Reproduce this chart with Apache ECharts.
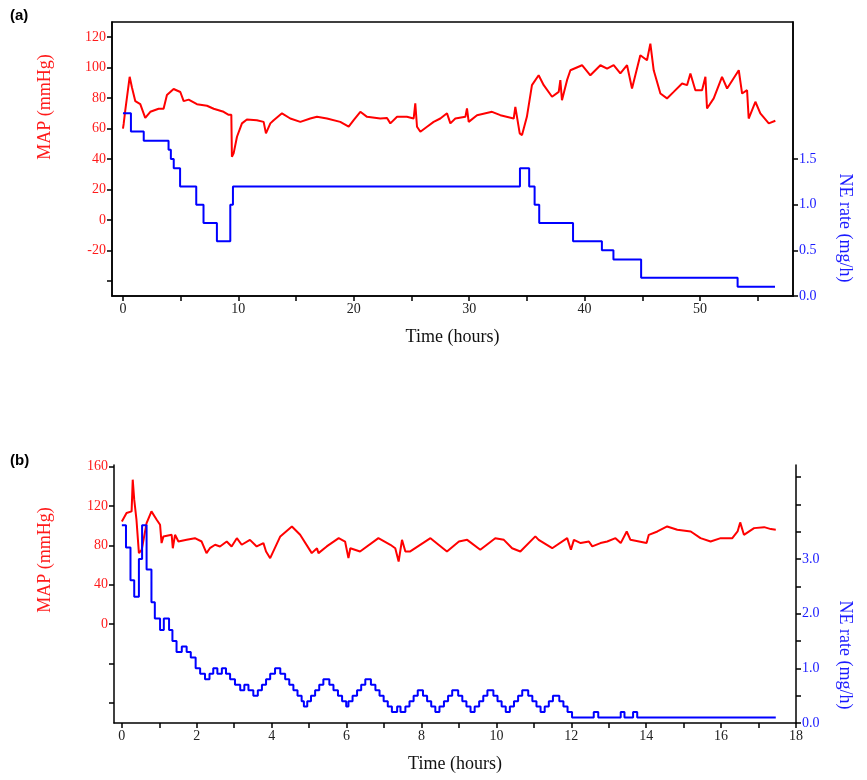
<!DOCTYPE html>
<html>
<head>
<meta charset="utf-8">
<script src="https://cdn.jsdelivr.net/npm/echarts@6/dist/echarts.min.js"></script>
<style>
  html, body { margin: 0; padding: 0; background: #fff; }
  #main { width: 867px; height: 780px; }
</style>
</head>
<body>
<div id="main"></div>
<script>
// (a) MAP trace [hours, mmHg]
var mapA = [[0,60],[0.06,63],[0.2,72],[0.58,94],[0.78,87],[1.07,78],[1.5,76],[1.93,67],[2.37,71],[3.09,73],[3.52,73],[3.81,82],[4.39,86],[4.97,84],[5.26,78],[5.69,79],[6.41,76],[7.28,75],[7.86,73],[8.72,71],[9.16,69],[9.39,69],[9.44,41.5],[9.59,43.7],[9.88,54.6],[10.31,63.4],[10.74,66],[11.6,65.5],[12.19,64.4],[12.39,56.8],[12.77,63.4],[13.06,65.5],[13.78,70],[14.5,66.6],[15.37,64.4],[16.23,66.6],[16.81,67.7],[17.68,66.6],[18.83,64.4],[19.56,61.2],[19.99,65.5],[20.57,71],[21.15,67.7],[22.3,66.6],[22.88,67],[23.17,63.4],[23.75,67.7],[24.6,67.7],[25.19,66.6],[25.33,76.5],[25.48,61.2],[25.77,57.9],[26.35,61.2],[26.92,64.4],[27.5,66.6],[28.08,70],[28.37,63.4],[28.8,66.6],[29.67,67.7],[29.81,73.2],[29.96,64.4],[30.68,68.8],[31.98,71],[32.7,68.8],[33.86,66.6],[34.0,74.3],[34.38,56.8],[34.58,55.7],[35.0,67.7],[35.44,88.5],[36.02,95],[36.46,88.5],[37.18,80.9],[37.76,84.1],[37.9,91.8],[38.04,78.6],[38.48,91.8],[38.77,98.3],[39.78,101.6],[40.5,95],[41.37,101.6],[41.95,99.4],[42.52,101.6],[43.1,96.2],[43.68,101.6],[44.11,86.3],[44.83,108.2],[45.41,104.9],[45.7,115.8],[45.99,98.3],[46.57,83],[47.14,79.8],[47.72,84.1],[48.45,89.6],[48.88,88.5],[49.17,96.2],[49.6,85.2],[50.18,85.2],[50.47,94],[50.61,73.2],[51.19,79.8],[51.91,94],[52.35,86.3],[53.36,98.3],[53.65,83],[54.08,85.2],[54.22,66.6],[54.8,77.6],[55.23,70],[55.96,63.4],[56.53,65.1]];

// (a) NE rate steps [start hour, mg/h]
var neA = [[0,2.0],[0.69,1.8],[1.8,1.7],[3.95,1.6],[4.15,1.5],[4.4,1.4],[4.95,1.2],[6.35,1.0],[6.98,0.8],[8.14,0.6],[9.3,1.0],[9.53,1.2],[34.4,1.4],[35.2,1.2],[35.67,1.0],[36.07,0.8],[39.0,0.6],[41.5,0.5],[42.5,0.4],[44.9,0.2],[53.26,0.1],[56.5,0.1]];

// (b) MAP trace
var mapB = [[0,104.2],[0.125,112.7],[0.26,114.4],[0.29,146.6],[0.33,126.3],[0.39,105.9],[0.455,72],[0.53,75.4],[0.66,102.5],[0.79,114.4],[0.93,105.9],[1.02,100.8],[1.06,82.2],[1.11,89],[1.33,90.6],[1.36,77],[1.42,90.6],[1.51,83.8],[1.73,85.5],[1.95,87.2],[2.13,83.8],[2.26,72],[2.35,77],[2.49,80.5],[2.62,78.8],[2.8,83.8],[2.93,78.8],[3.07,87.2],[3.2,80.5],[3.42,85.5],[3.6,78.8],[3.78,82.2],[3.85,73.7],[3.96,66.9],[4.23,89],[4.54,99.1],[4.76,90.6],[5.07,72],[5.21,77],[5.25,72],[5.47,78.8],[5.79,87.2],[5.96,83.8],[6.05,66.9],[6.1,77],[6.36,73.7],[6.85,87.2],[7.17,80.5],[7.3,77],[7.39,63.5],[7.48,85.5],[7.57,73.7],[7.7,73.7],[8.24,87.2],[8.68,73.7],[9.0,83.8],[9.22,85.5],[9.57,75.4],[9.97,87.2],[10.2,85.5],[10.42,77],[10.64,73.7],[11.04,89],[11.13,85.5],[11.49,77],[11.89,87.2],[11.99,75.4],[12.07,85.5],[12.25,82.2],[12.47,83.8],[12.56,78.8],[12.78,82.2],[12.96,83.8],[13.18,87.2],[13.32,82.2],[13.48,94],[13.58,85.5],[13.81,83.8],[14.01,82.2],[14.07,90.6],[14.3,94],[14.56,99.1],[14.83,95.7],[15.19,94],[15.45,87.2],[15.72,83.8],[15.99,87.2],[16.3,87.2],[16.44,94],[16.51,103.2],[16.61,90.6],[16.88,97.4],[17.15,98.4],[17.33,96.4],[17.46,95.7]];

// (b) NE rate steps
var neB = [[0,3.62],[0.11,3.21],[0.23,2.61],[0.33,2.31],[0.455,3.0],[0.54,3.62],[0.66,2.81],[0.79,2.21],[0.88,1.91],[1.02,1.7],[1.12,1.91],[1.26,1.7],[1.35,1.5],[1.46,1.3],[1.6,1.4],[1.73,1.3],[1.84,1.2],[1.97,1.0],[2.09,0.9],[2.22,0.8],[2.34,0.9],[2.44,1.0],[2.55,0.9],[2.67,1.0],[2.78,0.9],[2.89,0.8],[3.02,0.7],[3.16,0.6],[3.27,0.7],[3.38,0.6],[3.51,0.5],[3.63,0.6],[3.74,0.7],[3.85,0.8],[3.96,0.9],[4.09,1.0],[4.23,0.9],[4.36,0.8],[4.47,0.7],[4.58,0.6],[4.69,0.5],[4.8,0.4],[4.86,0.3],[4.95,0.4],[5.05,0.5],[5.16,0.6],[5.27,0.7],[5.38,0.8],[5.54,0.7],[5.65,0.6],[5.77,0.5],[5.88,0.4],[5.99,0.3],[6.05,0.4],[6.16,0.5],[6.28,0.6],[6.39,0.7],[6.5,0.8],[6.65,0.7],[6.77,0.6],[6.88,0.5],[6.99,0.4],[7.1,0.3],[7.21,0.2],[7.35,0.3],[7.44,0.2],[7.57,0.3],[7.68,0.4],[7.79,0.5],[7.9,0.6],[8.04,0.5],[8.15,0.4],[8.26,0.3],[8.37,0.2],[8.48,0.3],[8.6,0.4],[8.71,0.5],[8.82,0.6],[8.98,0.5],[9.09,0.4],[9.2,0.3],[9.31,0.2],[9.42,0.3],[9.54,0.4],[9.65,0.5],[9.76,0.6],[9.92,0.5],[10.03,0.4],[10.14,0.3],[10.25,0.2],[10.36,0.3],[10.47,0.4],[10.58,0.5],[10.69,0.6],[10.85,0.5],[10.96,0.4],[11.07,0.3],[11.18,0.2],[11.29,0.3],[11.4,0.4],[11.51,0.5],[11.68,0.4],[11.79,0.3],[11.9,0.2],[12.02,0.1],[12.6,0.2],[12.72,0.1],[13.32,0.2],[13.42,0.1],[13.65,0.2],[13.76,0.1],[17.46,0.1]];

// tick and label positions
var xTicksA = [0,5,10,15,20,25,30,35,40,45,50,55];
var xLabelsA = [0,10,20,30,40,50];
var xTicksB = [0,1,2,3,4,5,6,7,8,9,10,11,12,13,14,15,16,17,18];
var xLabelsB = [0,2,4,6,8,10,12,14,16,18];
var mapTicksA = [-40,-20,0,20,40,60,80,100,120];
var mapLabelsA = [-20,0,20,40,60,80,100,120];
var neTicksA = [0,0.5,1.0,1.5];
var mapTicksB = [-80,-40,0,40,80,120,160];
var mapLabelsB = [0,40,80,120,160];
var neTicksB = [0,0.5,1,1.5,2,2.5,3,3.5,4,4.5];
var neLabelsB = [0,1,2,3];

var FONT = '"Liberation Serif", "DejaVu Serif", serif';
var chart = echarts.init(document.getElementById('main'));

function axisBase(color) {
    return {
        axisLine: {show: true, onZero: false, lineStyle: {color: '#000', width: 1.5}},
        axisTick: {show: true, inside: false, length: 5, lineStyle: {color: '#000', width: 1.5}},
        splitLine: {show: false},
        axisLabel: {color: color, fontFamily: FONT, fontSize: 14, margin: 6}
    };
}

function xAxisOf(grid, min, max, ticks, labels) {
    var a = axisBase('#222');
    a.gridIndex = grid; a.type = 'value'; a.min = min; a.max = max;
    a.axisTick.customValues = ticks;
    a.axisLabel.customValues = labels;
    a.name = 'Time (hours)'; a.nameLocation = 'middle'; a.nameGap = 32;
    a.nameTextStyle = {fontFamily: FONT, fontSize: 18, color: '#111'};
    return a;
}

function yAxisOf(grid, pos, color, min, max, ticks, labels, fmt) {
    var a = axisBase(color);
    a.gridIndex = grid; a.type = 'value'; a.position = pos; a.min = min; a.max = max;
    a.axisTick.customValues = ticks;
    a.axisLabel.customValues = labels;
    if (fmt) a.axisLabel.formatter = fmt;
    return a;
}

var oneDec = function (v) { return v.toFixed(1); };

var option = {
    animation: false,
    backgroundColor: '#fff',
    grid: [
        {left: 112, top: 22, right: 74, height: 274, show: true, borderColor: '#000', borderWidth: 1.5},
        {left: 114, top: 465, right: 71, height: 258}
    ],
    xAxis: [
        xAxisOf(0, -0.95, 58.06, xTicksA, xLabelsA),
        xAxisOf(1, -0.21, 18, xTicksB, xLabelsB)
    ],
    yAxis: [
        yAxisOf(0, 'left', '#ff1a1a', -50, 130, mapTicksA, mapLabelsA),
        yAxisOf(0, 'right', '#1a1aff', 0, 3.0, neTicksA, neTicksA, oneDec),
        yAxisOf(1, 'left', '#ff1a1a', -100.5, 161.5, mapTicksB, mapLabelsB),
        yAxisOf(1, 'right', '#1a1aff', 0, 4.72, neTicksB, neLabelsB, oneDec)
    ],
    graphic: [
        {type: 'text', left: 10, top: 8, style: {text: '(a)', font: 'bold 15px Arial, "Liberation Sans"', fill: '#000'}},
        {type: 'text', left: 10, top: 453, style: {text: '(b)', font: 'bold 15px Arial, "Liberation Sans"', fill: '#000'}},
        {type: 'text', x: 45, y: 107, rotation: Math.PI / 2, style: {text: 'MAP (mmHg)', font: '18px ' + FONT, fill: '#ff1a1a', align: 'center', verticalAlign: 'middle'}},
        {type: 'text', x: 845, y: 228, rotation: -Math.PI / 2, style: {text: 'NE rate (mg/h)', font: '18px ' + FONT, fill: '#1a1aff', align: 'center', verticalAlign: 'middle'}},
        {type: 'text', x: 45, y: 560, rotation: Math.PI / 2, style: {text: 'MAP (mmHg)', font: '18px ' + FONT, fill: '#ff1a1a', align: 'center', verticalAlign: 'middle'}},
        {type: 'text', x: 845, y: 655, rotation: -Math.PI / 2, style: {text: 'NE rate (mg/h)', font: '18px ' + FONT, fill: '#1a1aff', align: 'center', verticalAlign: 'middle'}}
    ],
    series: [
        {type: 'line', xAxisIndex: 0, yAxisIndex: 0, data: mapA, showSymbol: false, lineStyle: {color: '#ff0000', width: 2}},
        {type: 'line', xAxisIndex: 0, yAxisIndex: 1, data: neA, step: 'end', showSymbol: false, lineStyle: {color: '#0000ff', width: 2}},
        {type: 'line', xAxisIndex: 1, yAxisIndex: 2, data: mapB, showSymbol: false, lineStyle: {color: '#ff0000', width: 2}},
        {type: 'line', xAxisIndex: 1, yAxisIndex: 3, data: neB, step: 'end', showSymbol: false, lineStyle: {color: '#0000ff', width: 2}}
    ]
};

chart.setOption(option);
window.addEventListener("resize", function () {
    chart.resize();
});
</script>
</body>
</html>
